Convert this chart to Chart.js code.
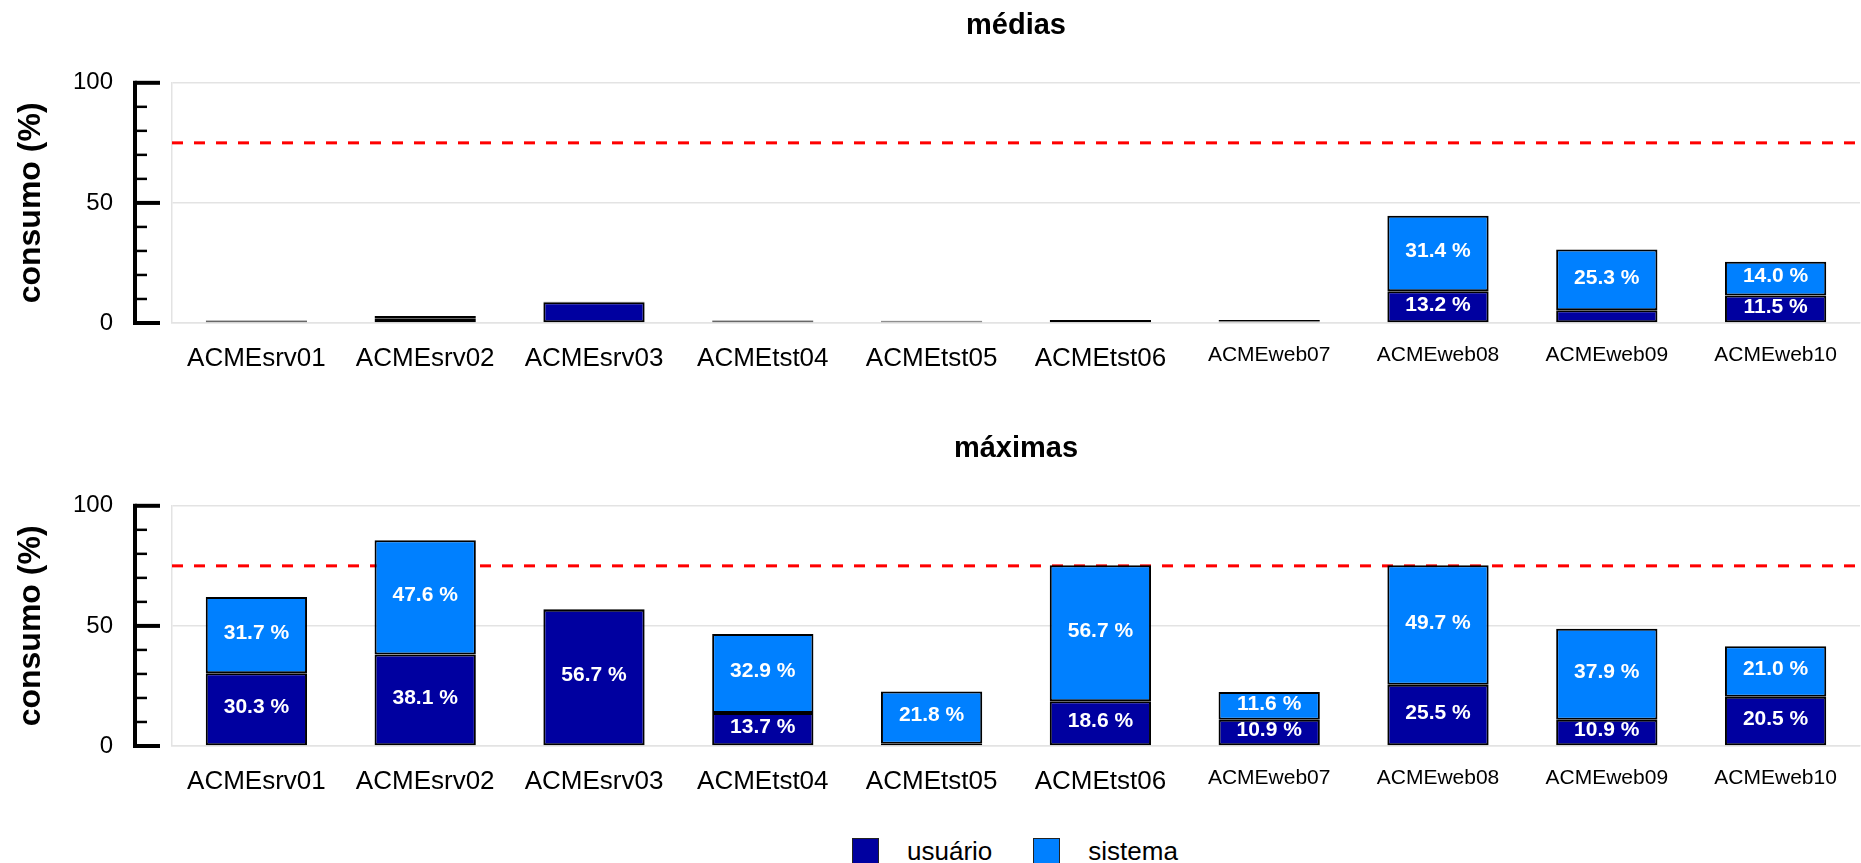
<!DOCTYPE html>
<html>
<head>
<meta charset="utf-8">
<script src="https://cdn.jsdelivr.net/npm/chart.js@4.4.0/dist/chart.umd.min.js"></script>
<style>
  html, body { margin:0; padding:0; background:#fff; }
  #wrap { position:relative; width:1861px; height:863px; overflow:hidden; font-family:"Liberation Sans", Arial, sans-serif; }
  canvas { position:absolute; left:0; }
  #legenda { position:absolute; top:836px; left:852px; display:flex; align-items:center; font-size:26px; color:#000; }
  #legenda .item { display:flex; align-items:center; margin-right:41px; }
  #legenda .box { width:25px; height:25px; border:1px solid #222; margin-right:28px; }
</style>
</head>
<body>
<div id="wrap">
  <canvas id="chart-medias" width="1861" height="400" style="top:1px"></canvas>
  <canvas id="chart-maximas" width="1861" height="400" style="top:424px"></canvas>
  <div id="legenda"></div>
</div>
<script>
// ── dados ──────────────────────────────────
const servidores = ['ACMEsrv01','ACMEsrv02','ACMEsrv03','ACMEtst04','ACMEtst05','ACMEtst06','ACMEweb07','ACMEweb08','ACMEweb09','ACMEweb10'];
const series = ['usuário', 'sistema'];
const cores = ['#0000A0', '#0080FF'];

const mediasUsuario = [0.7, 1.8, 8.6, 0.7, 0.6, 0.8, 0.6, 13.2, 5.3, 11.5];
const mediasSistema = [0.3, 1.1, 0.2, 0.3, 0.3, 0.4, 0.7, 31.4, 25.3, 14.0];

const maximasUsuario = [30.3, 38.1, 56.7, 13.7, 0.9, 18.6, 10.9, 25.5, 10.9, 20.5];
const maximasSistema = [31.7, 47.6, 0.3, 32.9, 21.8, 56.7, 11.6, 49.7, 37.9, 21.0];

const yTicks = [0, 50, 100];
const LIMITE = 75;        // linha tracejada
const MIN_ROTULO = 10;    // só rotula segmentos >= 10%

Chart.defaults.font.family = '"Liberation Sans", Arial, sans-serif';
Chart.defaults.color = '#000';

const GRID = '#e3e3e3';

// linha de limite (atrás das barras)
const limitePlugin = {
  id: 'limite',
  beforeDatasetsDraw(chart) {
    const { ctx, chartArea, scales: { y } } = chart;
    const py = y.getPixelForValue(LIMITE);
    ctx.save();
    ctx.strokeStyle = '#ff0000';
    ctx.lineWidth = 3;
    ctx.setLineDash([11, 11]);
    ctx.beginPath();
    ctx.moveTo(chartArea.left, py);
    ctx.lineTo(chartArea.right, py);
    ctx.stroke();
    ctx.restore();
  }
};

// eixo Y preto grosso com marcas menores
const eixoPlugin = {
  id: 'eixo',
  afterDraw(chart) {
    const { ctx, scales: { y } } = chart;
    const x0 = 135;
    ctx.save();
    ctx.strokeStyle = '#000';
    ctx.lineWidth = 4;
    ctx.beginPath();
    ctx.moveTo(x0, y.getPixelForValue(100) - 2);
    ctx.lineTo(x0, y.getPixelForValue(0) + 2);
    ctx.stroke();
    y.ticks.forEach(t => {
      const py = y.getPixelForValue(t.value);
      const major = yTicks.includes(t.value);
      ctx.lineWidth = major ? 4 : 2.5;
      ctx.beginPath();
      ctx.moveTo(x0, py);
      ctx.lineTo(major ? 160 : 147, py);
      ctx.stroke();
    });
    ctx.restore();
  }
};

// rótulos "xx.x %" dentro das barras
const rotulosPlugin = {
  id: 'rotulos',
  afterDatasetsDraw(chart) {
    const { ctx } = chart;
    ctx.save();
    ctx.fillStyle = '#fff';
    ctx.font = 'bold 21px "Liberation Sans", Arial, sans-serif';
    ctx.textAlign = 'center';
    ctx.textBaseline = 'middle';
    chart.data.datasets.forEach((ds, di) => {
      const meta = chart.getDatasetMeta(di);
      meta.data.forEach((bar, i) => {
        const v = ds.data[i];
        if (v < MIN_ROTULO) return;
        ctx.fillText(v.toFixed(1) + ' %', bar.x, (bar.y + bar.base) / 2 - 2);
      });
    });
    ctx.restore();
  }
};

function makeChart(id, titulo, usuario, sistema) {
  return new Chart(document.getElementById(id), {
    type: 'bar',
    data: {
      labels: servidores,
      datasets: [
        { label: series[0], data: usuario, backgroundColor: cores[0] },
        { label: series[1], data: sistema, backgroundColor: cores[1] }
      ]
    },
    options: {
      responsive: false,
      animation: false,
      devicePixelRatio: 1,
      layout: { padding: { left: 0, right: 1, top: 0, bottom: 0 } },
      datasets: {
        bar: { borderColor: '#000', borderWidth: 2, borderSkipped: false, categoryPercentage: 1, barPercentage: 0.6 }
      },
      plugins: {
        legend: { display: false },
        tooltip: { enabled: false },
        title: {
          display: true, text: titulo, fullSize: false,
          font: { size: 29, weight: 'bold' }, color: '#000',
          padding: { top: 8, bottom: 39 }
        }
      },
      scales: {
        x: {
          stacked: true,
          afterFit: s => { s.height = 78; },
          grid: {
            drawTicks: false,
            color: c => (c.index === servidores.length ? GRID : 'rgba(0,0,0,0)'),
            lineWidth: 1.5
          },
          border: { color: GRID, width: 1.5 },
          ticks: {
            padding: 20,
            autoSkip: false,
            maxRotation: 0,
            color: '#000',
            font: c => ({ size: c.index >= 6 ? 21 : 26 })
          }
        },
        y: {
          stacked: true,
          min: 0, max: 100,
          afterFit: s => { s.width = 172; },
          grid: {
            drawTicks: false,
            color: c => (c.tick && yTicks.includes(c.tick.value) ? GRID : 'rgba(0,0,0,0)'),
            lineWidth: 1.5
          },
          border: { color: GRID, width: 1.5 },
          ticks: {
            stepSize: 10,
            autoSkip: false,
            padding: 59,
            color: '#000',
            font: { size: 24 },
            callback: v => (yTicks.includes(v) ? v : '')
          },
          title: {
            display: true, text: 'consumo (%)',
            font: { size: 32, weight: 'bold' }, color: '#000',
            padding: { top: 12, bottom: 0 }
          }
        }
      }
    },
    plugins: [limitePlugin, eixoPlugin, rotulosPlugin]
  });
}

makeChart('chart-medias', 'médias', mediasUsuario, mediasSistema);
makeChart('chart-maximas', 'máximas', maximasUsuario, maximasSistema);

// legenda
document.getElementById('legenda').innerHTML = series.map((s, i) =>
  `<div class="item"><div class="box" style="background:${cores[i]}"></div><span>${s}</span></div>`
).join('');
</script>
</body>
</html>
